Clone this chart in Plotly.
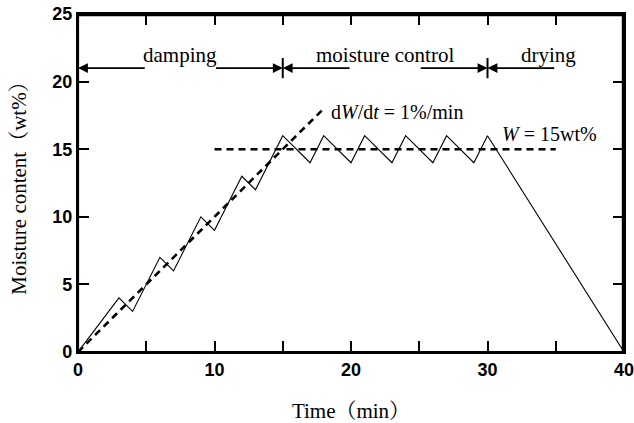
import plotly.graph_objects as go

# ---- data ----
time_min = [0, 3, 4, 6, 7, 9, 10, 12, 13, 15, 17, 18, 20, 21, 23, 24, 26, 27, 29, 30, 40]
moisture_wt = [0, 4, 3, 7, 6, 10, 9, 13, 12, 16, 14, 16, 14, 16, 14, 16, 14, 16, 14, 16, 0]

rate_time = [0, 18]          # dW/dt = 1 %/min guide
rate_w = [0, 18]

target_time = [10, 35]       # W = 15 wt% guide
target_w = [15, 15]

phase_names = ["damping", "moisture control", "drying"]
phase_label_x = [7.5, 22.5, 34.5]
phase_bounds = [15, 30]
arrow_level = 21
# (tail, tip) of each arrow segment on the phase row
arrow_tails = [5, 10, 20, 25, 35]
arrow_tips = [0, 15, 15, 30, 30]

x_range = [0, 40]
y_range = [0, 25]
x_tickvals = [0, 5, 10, 15, 20, 25, 30, 35, 40]
x_ticktext = ["0", "", "10", "", "20", "", "30", "", "40"]
y_tickvals = [0, 5, 10, 15, 20, 25]

SERIF = "Liberation Serif, 'Noto Serif CJK JP', 'Noto Sans CJK JP', serif"
SANS = "Liberation Sans, Arial, sans-serif"

fig = go.Figure()

# frame on top / right edges (safety net for the mirrored axis lines)
fig.add_trace(go.Scatter(x=[x_range[0], x_range[1], x_range[1]],
                         y=[y_range[1], y_range[1], y_range[0]], mode="lines",
                         line=dict(color="black", width=4.4), hoverinfo="skip"))

fig.add_trace(go.Scatter(x=rate_time, y=rate_w, mode="lines",
                         line=dict(color="black", width=2.6, dash="7px,5px"),
                         hoverinfo="skip"))
fig.add_trace(go.Scatter(x=target_time, y=target_w, mode="lines",
                         line=dict(color="black", width=2.6, dash="7px,5px"),
                         hoverinfo="skip"))
fig.add_trace(go.Scatter(x=time_min, y=moisture_wt, mode="lines",
                         line=dict(color="black", width=1.1),
                         hoverinfo="skip"))

annotations = []
for tail, tip in zip(arrow_tails, arrow_tips):
    annotations.append(dict(x=tip, y=arrow_level, ax=tail, ay=arrow_level,
                            xref="x", yref="y", axref="x", ayref="y",
                            text="", showarrow=True, arrowhead=2, arrowsize=1.1,
                            arrowwidth=1.8, arrowcolor="black", standoff=0,
                            startstandoff=0))
for name, lx in zip(phase_names, phase_label_x):
    annotations.append(dict(x=lx, y=21.95, xref="x", yref="y", text=name,
                            showarrow=False, xanchor="center", yanchor="middle",
                            font=dict(family=SERIF, size=21, color="black")))

annotations.append(dict(x=18.4, y=17.75, xref="x", yref="y",
                        text="d<i>W</i>/d<i>t</i> = 1%/min", showarrow=False,
                        xanchor="left", yanchor="middle",
                        font=dict(family=SERIF, size=20, color="black")))
annotations.append(dict(x=30.9, y=16.1, xref="x", yref="y",
                        text="<i>W</i> = 15wt%", showarrow=False,
                        xanchor="left", yanchor="middle",
                        font=dict(family=SERIF, size=20, color="black")))

shapes = [dict(type="rect", xref="paper", yref="paper", x0=0, x1=1, y0=0, y1=1,
               line=dict(color="black", width=2.2), layer="above")]
for b in phase_bounds:
    shapes.append(dict(type="line", xref="x", yref="y", x0=b, x1=b,
                       y0=arrow_level - 0.75, y1=arrow_level + 0.75,
                       line=dict(color="black", width=2)))

fig.update_layout(
    width=634, height=423,
    margin=dict(l=78, r=10, t=14, b=71),
    paper_bgcolor="white", plot_bgcolor="white",
    showlegend=False,
    annotations=annotations,
    shapes=shapes,
    xaxis=dict(range=x_range, tickvals=x_tickvals, ticktext=x_ticktext,
               ticks="inside", ticklen=11, tickwidth=2, tickcolor="black",
               showline=True, linewidth=2.2, linecolor="black", mirror="ticks",
               showgrid=False, zeroline=False, automargin=False,
               ticklabeloverflow="allow",
               tickfont=dict(family=SANS, size=18, color="black", weight="bold"),
               title=dict(text="Time（min）", standoff=26,
                          font=dict(family=SERIF, size=21, color="black"))),
    yaxis=dict(range=y_range, tickvals=y_tickvals,
               ticks="inside", ticklen=11, tickwidth=2, tickcolor="black",
               showline=True, linewidth=2.2, linecolor="black", mirror="ticks",
               showgrid=False, zeroline=False, automargin=False,
               ticklabeloverflow="allow",
               tickfont=dict(family=SANS, size=18, color="black", weight="bold"),
               title=dict(text="Moisture content（wt%）", standoff=20,
                          font=dict(family=SERIF, size=21, color="black"))),
)

# remove the default page margin so the 634x423 figure fills the window
fig.write_html("out.html", config={"displayModeBar": False},
               post_script="document.body.style.margin='0';document.body.style.overflow='hidden';")
